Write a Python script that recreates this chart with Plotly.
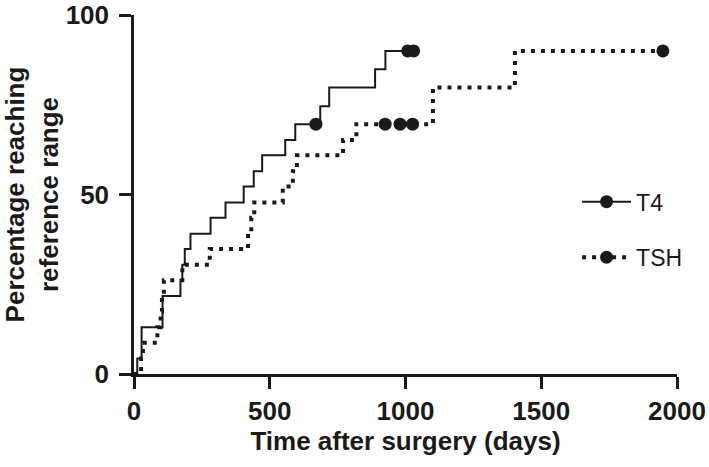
import plotly.graph_objects as go

# ---- data ----
t4_days = [0, 12, 28, 105, 171, 178, 187, 208, 282, 337, 404, 441, 472, 557, 594, 686, 719, 888, 926, 1030]
t4_pct = [0, 4.3, 13.0, 21.7, 26.1, 30.4, 34.8, 39.1, 43.5, 47.8, 52.2, 56.5, 60.9, 65.2, 69.6, 74.6, 79.8, 84.9, 90.0, 90.0]
t4_cens_days = [670, 1008, 1030]
t4_cens_pct = [69.6, 90.0, 90.0]

tsh_days = [0, 26, 33, 86, 98, 103, 110, 178, 279, 420, 432, 443, 548, 585, 600, 770, 819, 1101, 1403, 1948]
tsh_pct = [0, 4.3, 8.7, 13.0, 17.4, 21.7, 26.1, 30.4, 34.8, 39.1, 43.5, 47.8, 52.2, 56.5, 60.9, 65.2, 69.6, 79.8, 90.0, 90.0]
tsh_cens_days = [925, 980, 1026, 1948]
tsh_cens_pct = [69.6, 69.6, 69.6, 90.0]

x_ticks = [0, 500, 1000, 1500, 2000]
y_ticks = [0, 50, 100]

BLACK = "#1a1a1a"
FONT = "Liberation Sans"
MS = 13

fig = go.Figure()

fig.add_trace(go.Scatter(x=t4_days, y=t4_pct, mode="lines", line_shape="hv",
                         line=dict(color=BLACK, width=2), showlegend=False, cliponaxis=False))
fig.add_trace(go.Scatter(x=t4_cens_days, y=t4_cens_pct, mode="markers",
                         marker=dict(color=BLACK, size=MS), showlegend=False, cliponaxis=False))
fig.add_trace(go.Scatter(x=tsh_days, y=tsh_pct, mode="lines", line_shape="hv",
                         line=dict(color=BLACK, width=4, dash="4px,6px"), showlegend=False, cliponaxis=False))
fig.add_trace(go.Scatter(x=tsh_cens_days, y=tsh_cens_pct, mode="markers",
                         marker=dict(color=BLACK, size=MS), showlegend=False, cliponaxis=False))

# legend entries
fig.add_trace(go.Scatter(x=[None], y=[None], mode="lines+markers", name="T4",
                         line=dict(color=BLACK, width=2), marker=dict(color=BLACK, size=MS),
                         legend="legend"))
fig.add_trace(go.Scatter(x=[None], y=[None], mode="lines+markers", name="TSH",
                         line=dict(color=BLACK, width=4, dash="4px,6px"), marker=dict(color=BLACK, size=MS),
                         legend="legend2"))

axis_common = dict(showline=True, linecolor=BLACK, linewidth=2.5, ticks="outside", ticklen=12,
                   tickwidth=2.5, tickcolor=BLACK, showgrid=False, zeroline=False, automargin=False,
                   ticklabeloverflow="allow",
                   tickfont=dict(family=FONT, size=26, color=BLACK, weight="bold"))

fig.update_layout(
    width=709, height=467,
    margin=dict(l=134, r=32, t=15, b=93, autoexpand=False),
    paper_bgcolor="white", plot_bgcolor="white",
    font=dict(family=FONT, color=BLACK),
    hovermode=False,
    xaxis=dict(range=[0, 2000], tickvals=x_ticks, ticklabelstandoff=0, **axis_common,
               title=dict(text="<b>Time after surgery (days)</b>", font=dict(family=FONT, size=26, color=BLACK), standoff=3)),
    yaxis=dict(range=[0, 100], tickvals=y_ticks, ticklabelstandoff=5, **axis_common,
               title=dict(text="<b>Percentage reaching<br>reference range</b>", font=dict(family=FONT, size=26, color=BLACK), standoff=20)),
    legend=dict(x=0.816, y=0.48, xanchor="left", yanchor="middle", bgcolor="rgba(0,0,0,0)",
                font=dict(family=FONT, size=23, color=BLACK), itemwidth=49),
    legend2=dict(x=0.816, y=0.325, xanchor="left", yanchor="middle", bgcolor="rgba(0,0,0,0)",
                 font=dict(family=FONT, size=23, color=BLACK), itemwidth=49),
)

# remove the default 8px page margin so the figure fills the window exactly
fig.write_html("out.html", config={"displayModeBar": False, "staticPlot": False},
               post_script="document.body.style.margin='0';")
